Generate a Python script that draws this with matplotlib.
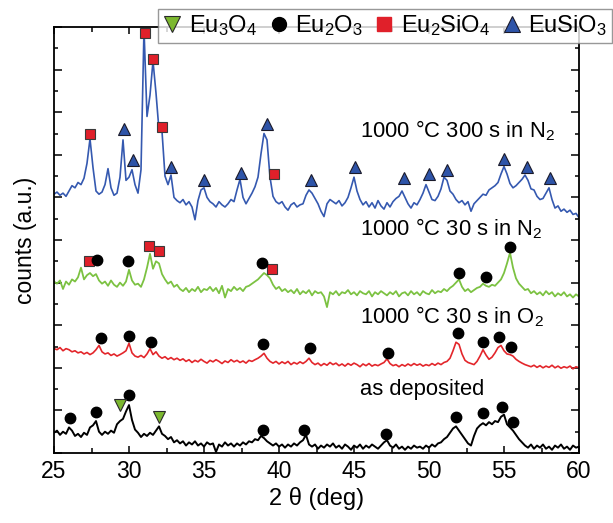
import numpy as np
import matplotlib
matplotlib.use('Agg')
import matplotlib.pyplot as plt
from matplotlib.lines import Line2D
from matplotlib.ticker import MultipleLocator

plt.rcParams['font.family'] = ['Liberation Sans', 'DejaVu Sans']
plt.rcParams['mathtext.fontset'] = 'custom'
plt.rcParams['mathtext.rm'] = 'Liberation Sans'
plt.rcParams['mathtext.it'] = 'Liberation Sans:italic'

# 2-theta sampling (deg), 0.2 deg steps from 25 to 60
two_theta = np.round(np.arange(25.0, 60.0001, 0.2), 1)

# ---- traces (offset counts, a.u.) ----
n2_300s = [
    12.15, 12.25, 12.10, 12.20, 12.05, 12.30, 12.55, 12.45, 12.70, 12.60,  # 25.0-26.8
    12.90, 13.60, 14.75, 13.40, 12.30, 12.15, 12.25, 12.60, 13.35, 12.45,  # 27.0-28.8
    12.10, 12.20, 12.95, 14.70, 12.80, 12.95, 13.30, 12.60, 12.20, 13.30,  # 29.0-30.8
    19.90, 15.80, 16.80, 18.40, 16.90, 15.15, 15.10, 13.00, 12.60, 13.05,  # 31.0-32.8
    12.00, 11.85, 11.75, 11.90, 11.65, 11.80, 11.55, 10.95, 11.85, 12.35,  # 33.0-34.8
    12.45, 12.00, 11.80, 11.70, 11.55, 11.80, 11.65, 11.55, 11.70, 11.90,  # 35.0-36.8
    11.80, 12.35, 12.85, 12.00, 11.70, 11.95, 12.20, 12.50, 12.95, 14.05,  # 37.0-38.8
    15.00, 14.70, 12.95, 12.05, 11.80, 11.70, 11.80, 11.55, 11.40, 11.65,  # 39.0-40.8
    11.75, 11.55, 11.65, 11.70, 12.10, 12.35, 12.20, 11.95, 11.70, 11.35,  # 41.0-42.8
    11.10, 11.70, 11.90, 11.80, 11.70, 11.85, 11.60, 11.75, 12.00, 12.45,  # 43.0-44.8
    12.95, 12.30, 11.90, 11.65, 11.80, 11.55, 11.75, 11.50, 11.85, 11.60,  # 45.0-46.8
    11.45, 11.75, 11.55, 11.80, 11.95, 12.05, 12.30, 12.00, 11.70, 11.50,  # 47.0-48.8
    11.75, 11.65, 11.90, 12.20, 12.60, 12.25, 11.90, 11.85, 12.05, 12.40,  # 49.0-50.8
    12.95, 12.80, 12.30, 12.15, 11.90, 11.75, 11.85, 11.65, 11.80, 11.35,  # 51.0-52.8
    11.70, 11.85, 12.00, 12.15, 12.10, 12.35, 12.45, 12.55, 12.70, 13.10,  # 53.0-54.8
    13.45, 13.10, 12.65, 12.45, 12.55, 12.70, 12.85, 13.05, 12.80, 12.40,  # 55.0-56.8
    12.35, 12.05, 11.90, 11.95, 12.20, 12.45, 11.90, 11.50, 11.60, 11.35,  # 57.0-58.8
    11.45, 11.30, 11.40, 11.20, 11.25, 11.05,                              # 59.0-60.0
]
n2_30s = [
    8.05, 7.95, 8.10, 7.70, 8.05, 7.90, 8.15, 8.05, 8.25, 8.70,
    8.15, 8.35, 8.45, 8.30, 8.40, 8.10, 7.95, 8.05, 7.85, 8.10,
    7.90, 7.80, 8.00, 7.85, 8.05, 8.60, 8.10, 7.90, 7.95, 7.80,
    8.15, 8.70, 9.35, 8.65, 9.00, 8.90, 8.40, 8.15, 7.95, 8.05,
    7.80, 7.90, 7.70, 7.60, 7.75, 7.55, 7.70, 7.60, 7.80, 7.55,
    7.70, 7.65, 7.80, 7.60, 7.75, 7.50, 7.85, 7.30, 7.70, 7.60,
    7.80, 7.65, 7.75, 7.60, 7.80, 7.85, 7.95, 8.05, 8.15, 8.30,
    8.45, 8.35, 8.20, 7.90, 7.70, 7.80, 7.60, 7.70, 7.55, 7.65,
    7.50, 7.70, 7.45, 7.60, 7.50, 7.65, 7.40, 7.60, 7.50, 7.55,
    7.35, 6.85, 7.55, 7.45, 7.60, 7.40, 7.55, 7.50, 7.65, 7.45,
    7.55, 7.40, 7.60, 7.50, 7.45, 7.60, 7.35, 7.55, 7.45, 7.60,
    7.50, 7.40, 7.55, 7.45, 7.60, 7.35, 7.50, 7.55, 7.40, 7.60,
    7.45, 7.55, 7.40, 7.60, 7.50, 7.45, 7.65, 7.50, 7.60, 7.55,
    7.70, 7.60, 7.75, 7.85, 8.00, 8.15, 7.80, 7.60, 7.70, 7.55,
    7.65, 7.75, 7.80, 7.95, 7.85, 7.80, 7.90, 7.85, 8.00, 8.15,
    8.45, 8.90, 9.40, 8.70, 8.20, 7.95, 7.80, 7.65, 7.70, 7.50,
    7.60, 7.45, 7.55, 7.40, 7.60, 7.45, 7.55, 7.35, 7.50, 7.40,
    7.55, 7.35, 7.45, 7.30, 7.45, 7.35,
]
o2_30s = [
    4.90, 4.85, 4.95, 4.80, 4.90, 4.85, 4.75, 4.80, 4.70, 4.75,
    4.65, 4.72, 4.62, 4.70, 4.85, 5.05, 4.75, 4.65, 4.70, 4.58,
    4.65, 4.55, 4.62, 4.70, 4.80, 5.15, 4.70, 4.55, 4.50, 4.58,
    4.48, 4.65, 4.90, 4.62, 4.75, 4.55, 4.45, 4.52, 4.40, 4.48,
    4.38, 4.45, 4.35, 4.42, 4.30, 4.38, 4.25, 4.35, 4.28, 4.40,
    4.30, 4.22, 4.35, 4.28, 4.38, 4.30, 4.20, 4.32, 4.25, 4.38,
    4.28, 4.35, 4.25, 4.32, 4.22, 4.35, 4.30, 4.38, 4.45, 4.55,
    4.68, 4.45, 4.30, 4.22, 4.30, 4.18, 4.28, 4.20, 4.30, 4.15,
    4.25, 4.18, 4.28, 4.20, 4.30, 4.45, 4.25, 4.15, 4.22, 4.10,
    4.20, 4.12, 4.25, 4.15, 4.22, 4.10, 4.18, 4.08, 4.20, 4.12,
    4.22, 4.15, 4.05, 4.18, 4.10, 4.20, 4.08, 4.15, 4.10, 4.18,
    4.25, 4.42, 4.20, 4.10, 4.15, 4.05, 4.15, 4.08, 4.18, 4.10,
    4.20, 4.12, 4.18, 4.08, 4.15, 4.10, 4.20, 4.12, 4.22, 4.15,
    4.25, 4.30, 4.45, 4.80, 5.20, 5.10, 4.65, 4.35, 4.25, 4.20,
    4.15, 4.30, 4.55, 4.85, 4.60, 4.40, 4.50, 4.70, 4.95, 5.05,
    4.80, 4.65, 4.62, 4.55, 4.40, 4.30, 4.22, 4.15, 4.10, 4.05,
    4.12, 4.02, 4.10, 4.00, 4.08, 4.02, 4.12, 4.00, 4.08, 3.98,
    4.05, 4.00, 4.08, 3.95, 4.05, 4.00,
]
as_deposited = [
    0.95, 1.05, 0.85, 1.00, 0.90, 1.20, 1.05, 0.80, 0.90, 0.75,
    0.95, 0.85, 1.20, 1.30, 1.50, 1.00, 0.85, 1.00, 0.90, 1.05,
    0.95, 1.35, 1.50, 1.60, 1.95, 2.25, 1.55, 1.10, 0.95, 0.75,
    0.90, 0.80, 0.95, 0.85, 1.05, 1.25, 0.90, 0.80, 0.65, 0.75,
    0.50, 0.60, 0.45, 0.55, 0.35, 0.50, 0.40, 0.55, 0.35, 0.45,
    0.30, 0.50, 0.40, 0.45, 0.05, 0.40, 0.30, 0.50, 0.35, 0.45,
    0.30, 0.45, 0.35, 0.50, 0.40, 0.55, 0.50, 0.65, 0.60, 0.80,
    0.70, 0.55, 0.45, 0.35, 0.45, 0.30, 0.40, 0.25, 0.40, 0.30,
    0.45, 0.35, 0.50, 0.60, 0.85, 0.40, 0.30, 0.40, 0.20, 0.35,
    0.25, 0.40, 0.30, 0.45, 0.25, 0.35, 0.20, 0.40, 0.30, 0.15,
    0.35, 0.25, 0.40, 0.20, 0.35, 0.25, 0.40, 0.30, 0.20, 0.35,
    0.50, 0.60, 0.35, 0.25, 0.40, 0.20, 0.30, 0.15, 0.30, 0.20,
    0.35, 0.25, 0.30, 0.20, 0.35, 0.25, 0.40, 0.30, 0.45, 0.50,
    0.65, 0.75, 0.95, 1.15, 1.25, 1.05, 0.85, 0.65, 0.45, 0.35,
    0.80, 1.15, 1.30, 1.40, 1.30, 1.45, 1.35, 1.50, 1.45, 1.70,
    1.80, 1.35, 1.20, 1.05, 0.85, 0.65, 0.50, 0.35, 0.25, 0.40,
    0.20, 0.35, 0.25, 0.40, 0.20, 0.30, 0.15, 0.35, 0.25, 0.40,
    0.20, 0.30, 0.15, 0.35, 0.25, 0.30,
]

# ---- phase markers (2theta, offset counts) ----
eu3o4_x = [29.4, 31.98]
eu3o4_y = [2.25, 1.67]
eu2o3_x = [26.07, 27.8, 30.02, 38.91, 41.69, 47.13, 51.8, 53.62, 54.89, 55.58,
           28.11, 30.0, 31.47, 38.91, 42.07, 47.25, 51.91, 53.58, 54.69, 55.47,
           27.89, 29.96, 38.89, 52.0, 53.78, 55.4]
eu2o3_y = [1.63, 1.94, 2.72, 1.08, 1.08, 0.89, 1.67, 1.86, 2.17, 1.46,
           5.38, 5.49, 5.23, 5.12, 4.92, 4.71, 5.65, 5.2, 5.46, 4.99,
           9.06, 9.03, 8.93, 8.47, 8.25, 9.69]
eu2sio4_x = [27.33, 31.36, 32.03, 39.56, 27.4, 31.07, 31.62, 32.22, 39.69]
eu2sio4_y = [9.03, 9.72, 9.48, 8.65, 14.98, 19.73, 18.5, 15.32, 13.1]
eusio3_x = [29.67, 30.25, 32.78, 35.0, 37.44, 39.18, 42.13, 45.07, 48.33, 50.0,
            51.18, 55.02, 56.51, 58.07]
eusio3_y = [15.2, 13.76, 13.44, 12.82, 13.16, 15.43, 12.82, 13.44, 12.9, 13.1,
            13.29, 13.79, 13.44, 12.9]

trace_labels = ['1000 °C 300 s in N$_2$', '1000 °C 30 s in N$_2$',
                '1000 °C 30 s in O$_2$', 'as deposited']
label_x = [45.4, 45.4, 45.4, 45.4]
label_y = [14.84, 10.23, 6.09, 2.72]

blue = '#3559b0'
green = '#7cc242'
red = '#e3262b'

fig = plt.figure(figsize=(6.13, 5.23), dpi=100)
ax = fig.add_axes([54/613, 1-453/523, (579-54)/613, (453-27)/523])

ax.plot(two_theta, n2_300s, color=blue, lw=1.2)
ax.plot(two_theta, n2_30s, color=green, lw=1.3)
ax.plot(two_theta, o2_30s, color=red, lw=1.2)
ax.plot(two_theta, as_deposited, color='black', lw=1.4)

ax.plot(eu2sio4_x, eu2sio4_y, ls='none', marker='s', ms=6.5, mfc='#e0202a',
        mec='#3a3a3a', mew=0.8, clip_on=False, zorder=5)
ax.plot(eu2o3_x, eu2o3_y, ls='none', marker='o', ms=7.5, mfc='black',
        mec='black', clip_on=False, zorder=6)
ax.plot(eusio3_x, eusio3_y, ls='none', marker='^', ms=8.5, mfc='#2e54a8',
        mec='#1a1a2a', mew=0.8, clip_on=False, zorder=6)
ax.plot(eu3o4_x, eu3o4_y, ls='none', marker='v', ms=8.5, mfc='#7cb82f',
        mec='#2a2a2a', mew=0.8, clip_on=False, zorder=6)

for t, lx, ly in zip(trace_labels, label_x, label_y):
    ax.text(lx, ly, t, fontsize=15.8, ha='left', va='baseline')

ax.set_xlim(25, 60)
ax.set_ylim(0, 20)
ax.xaxis.set_major_locator(MultipleLocator(5))
ax.xaxis.set_minor_locator(MultipleLocator(2.5))
ax.yaxis.set_major_locator(MultipleLocator(2))
ax.yaxis.set_minor_locator(MultipleLocator(1))
ax.tick_params(which='both', direction='in', top=True, right=True, width=1.1)
ax.tick_params(axis='x', which='major', length=5, labelsize=16.5, pad=5)
ax.tick_params(axis='x', which='minor', length=3.5)
ax.tick_params(axis='y', which='major', length=6)
ax.tick_params(axis='y', which='minor', length=3)
ax.tick_params(axis='y', which='both', labelleft=False)
for s in ax.spines.values():
    s.set_linewidth(1.3)

ax.set_xlabel('2 θ (deg)', fontsize=17, labelpad=3)
ax.set_ylabel('counts (a.u.)', fontsize=16.5, labelpad=12)

handles = [
    Line2D([], [], ls='none', marker='v', ms=12, mfc='#7cb82f', mec='#2a2a2a', mew=0.8),
    Line2D([], [], ls='none', marker='o', ms=10, mfc='black', mec='black'),
    Line2D([], [], ls='none', marker='s', ms=10, mfc='#e0202a', mec='#e0202a'),
    Line2D([], [], ls='none', marker='^', ms=12, mfc='#2e54a8', mec='#1a1a2a', mew=0.8),
]
names = ['Eu$_3$O$_4$', 'Eu$_2$O$_3$', 'Eu$_2$SiO$_4$', 'EuSiO$_3$']
leg = fig.legend(handles, names, loc='lower left',
                 bbox_to_anchor=(158/613, 1-43/523, (612-158)/613, 36/523),
                 mode='expand', ncol=4, fontsize=17, frameon=True, fancybox=False,
                 edgecolor='#7f7f7f', handlelength=0.8, handletextpad=0.3,
                 borderpad=0.2, borderaxespad=0, columnspacing=0.6)
leg.get_frame().set_linewidth(1.0)
leg.set_zorder(10)

fig.savefig('out.png', dpi=100)
